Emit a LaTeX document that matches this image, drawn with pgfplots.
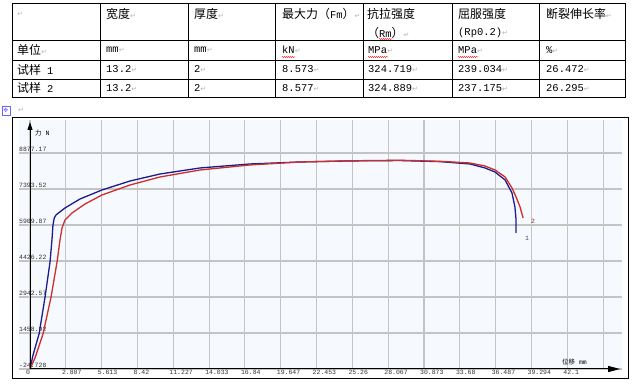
\documentclass[border=0pt]{standalone}
\usepackage{fontspec}
\usepackage{pgfplots}
\pgfplotsset{compat=1.18}
\usetikzlibrary{arrows.meta,decorations.pathmorphing}
\setmainfont{Liberation Mono}
\newfontfamily\cjk{Noto Sans CJK SC}
\newfontfamily\dv{DejaVu Sans}
\definecolor{gridc}{RGB}{196,196,196}
\definecolor{cone}{RGB}{28,28,140}
\definecolor{ctwo}{RGB}{205,45,45}
\definecolor{bgc}{RGB}{246,249,253}
\newcommand\tf{\fontsize{10.5}{12}\selectfont}
\newcommand\cf{\cjk\fontsize{12}{14}\selectfont}
\newcommand\rt{{\dv\fontsize{7}{8}\selectfont\color{gray!60}↵}}
\newcommand\sm{\fontsize{6.5}{7}\selectfont}

\pgfplotstableread{
x y
0 -25
0.24 552
0.71 1417
1.18 2942
1.57 4385
1.72 5291
1.80 5910
1.90 6200
2.05 6330
2.74 6610
3.92 6981
5.64 7352
7.84 7723
10.19 8011
13.32 8259
17.24 8424
21.16 8506
25.08 8550
29.0 8565
32.13 8520
34.48 8424
35.66 8259
36.44 8093
37.23 7764
37.77 7228
38.0 6652
38.09 6115
38.09 5580
}\sampleone

\pgfplotstableread{
x y
0 -25
0.39 428
1.02 1417
1.65 2942
2.12 4385
2.35 5291
2.51 5786
2.74 6115
3.29 6404
4.31 6775
5.64 7146
7.84 7558
10.19 7888
13.32 8176
17.24 8383
21.16 8506
25.08 8555
29.0 8577
32.13 8535
34.48 8465
35.66 8341
36.44 8176
37.23 7888
37.77 7434
38.09 7063
38.4 6652
38.64 6198
}\sampletwo

\begin{document}
\begin{tikzpicture}
\path[use as bounding box] (0,0) rectangle (632bp,384bp);

\begin{axis}[
  at={(19bp,15bp)}, anchor=south west,
  scale only axis, width=603bp, height=249bp,
  xmin=-0.862, xmax=46.39, ymin=-24.728, ymax=10236,
  scaled ticks=false,
  axis line style={draw=none},
  axis background/.style={fill=bgc},
  grid=major, grid style={gridc, line width=1.1bp},
  major tick length=0,
  clip=false,
  xtick={0,2.807,5.613,8.42,11.227,14.033,16.84,19.647,22.453,25.26,28.067,30.873,33.68,36.487,39.294,42.1,44.907},
  xticklabels={0,2.807,5.613,8.42,11.227,14.033,16.84,19.647,22.453,25.26,28.067,30.873,33.68,36.487,39.294,42.1,{}},
  ytick={-24.728,1458.92,2942.57,4426.22,5909.87,7393.52,8877.17},
  yticklabels={-24.728,1458.92,2942.57,4426.22,5909.87,7393.52,8877.17},
  xticklabel style={anchor=north west, xshift=-4bp, yshift=-1bp, inner sep=0pt, font=\sm, text=black!80},
  yticklabel style={anchor=south west, yshift=1bp, inner sep=0pt, font=\sm, text=black!80},
]
\addplot[cone, line width=1.3bp] table[x=x,y=y] {\sampleone};
\addplot[ctwo, line width=1.3bp] table[x=x,y=y] {\sampletwo};
\draw[line width=1bp, -{Triangle[length=8bp,width=5bp]}] (axis cs:0,-24.728) -- (axis cs:0,10154);
\draw[line width=1bp, -{Triangle[length=12bp,width=6bp]}] (axis cs:0,-24.728) -- (axis cs:46.24,-24.728);
\node[anchor=west, inner sep=0pt, font=\sm, text=black!70] at (axis cs:38.79,5374) {1};
\node[anchor=west, inner sep=0pt, font=\sm, text=ctwo!80!black] at (axis cs:39.26,6074) {2};
\end{axis}

\begin{scope}[shift={(0,384bp)}, x=1bp, y=-1bp]
% chart frame
\draw[line width=1bp] (12,118) rectangle (628,379);
\node[anchor=west, inner sep=0pt, font=\sm] at (35,133) {{\cjk 力} N};
\node[anchor=west, inner sep=0pt, font=\sm] at (562,362) {{\cjk 位移} mm};
\node[anchor=west, inner sep=0pt] at (18,110) {\rt};
\draw[blue!60, line width=0.6bp] (2,106) rectangle (10,115);
\node[inner sep=0pt, font=\fontsize{6}{6}\selectfont\dv, text=blue!60] at (6,110.5) {✥};

% table
\draw[line width=0.8bp] (12,3) rectangle (625,97);
\foreach \yy in {40,60,79} \draw[line width=0.8bp] (12,\yy) -- (625,\yy);
\foreach \xx in {100,188,275,363,452,539} \draw[line width=0.8bp] (\xx,3) -- (\xx,97);

% header
\node[anchor=west, inner sep=0pt] at (17,14) {\rt};
\node[anchor=west, inner sep=0pt] at (106,14) {{\cf 宽度}\rt};
\node[anchor=west, inner sep=0pt] at (194,14) {{\cf 厚度}\rt};
\node[anchor=west, inner sep=0pt] at (282,14) {{\cf 最大力（}{\tf Fm}{\cf ）}\rt};
\node[anchor=west, inner sep=0pt] at (367,14) {{\cf 抗拉强度}};
\node[anchor=west, inner sep=0pt] at (367,33) {{\cf （}{\tf Rm}{\cf ）}\rt};
\node[anchor=west, inner sep=0pt] at (458,14) {{\cf 屈服强度}};
\node[anchor=west, inner sep=0pt] at (458,33) {{\tf (Rp0.2)}\rt};
\node[anchor=west, inner sep=0pt] at (546,14) {{\cf 断裂伸长率}\rt};

% units
\node[anchor=west, inner sep=0pt] at (17,50) {{\cf 单位}\rt};
\node[anchor=west, inner sep=0pt] at (106,50) {{\tf mm}\rt};
\node[anchor=west, inner sep=0pt] at (194,50) {{\tf mm}\rt};
\node[anchor=west, inner sep=0pt] at (282,50) {{\tf kN}\rt};
\node[anchor=west, inner sep=0pt] at (368,50) {{\tf MPa}\rt};
\node[anchor=west, inner sep=0pt] at (458,50) {{\tf MPa}\rt};
\node[anchor=west, inner sep=0pt] at (546,50) {{\tf \%}\rt};
\draw[red!80, line width=0.5bp, decorate, decoration={snake, amplitude=0.6bp, segment length=2bp}] (282,57) -- (295,57);
\draw[red!80, line width=0.5bp, decorate, decoration={snake, amplitude=0.6bp, segment length=2bp}] (368,57) -- (388,57);
\draw[red!80, line width=0.5bp, decorate, decoration={snake, amplitude=0.6bp, segment length=2bp}] (458,57) -- (478,57);
\draw[red!80, line width=0.5bp, decorate, decoration={snake, amplitude=0.6bp, segment length=2bp}] (379,39) -- (392,39);

% sample rows
\node[anchor=west, inner sep=0pt] at (17,69.5) {{\cf 试样} {\tf 1}};
\node[anchor=west, inner sep=0pt] at (106,69.5) {{\tf 13.2}\rt};
\node[anchor=west, inner sep=0pt] at (194,69.5) {{\tf 2}\rt};
\node[anchor=west, inner sep=0pt] at (282,69.5) {{\tf 8.573}\rt};
\node[anchor=west, inner sep=0pt] at (368,69.5) {{\tf 324.719}\rt};
\node[anchor=west, inner sep=0pt] at (458,69.5) {{\tf 239.034}\rt};
\node[anchor=west, inner sep=0pt] at (546,69.5) {{\tf 26.472}\rt};

\node[anchor=west, inner sep=0pt] at (17,88) {{\cf 试样} {\tf 2}};
\node[anchor=west, inner sep=0pt] at (106,88) {{\tf 13.2}\rt};
\node[anchor=west, inner sep=0pt] at (194,88) {{\tf 2}\rt};
\node[anchor=west, inner sep=0pt] at (282,88) {{\tf 8.577}\rt};
\node[anchor=west, inner sep=0pt] at (368,88) {{\tf 324.889}\rt};
\node[anchor=west, inner sep=0pt] at (458,88) {{\tf 237.175}\rt};
\node[anchor=west, inner sep=0pt] at (546,88) {{\tf 26.295}\rt};
\end{scope}
\end{tikzpicture}
\end{document}
